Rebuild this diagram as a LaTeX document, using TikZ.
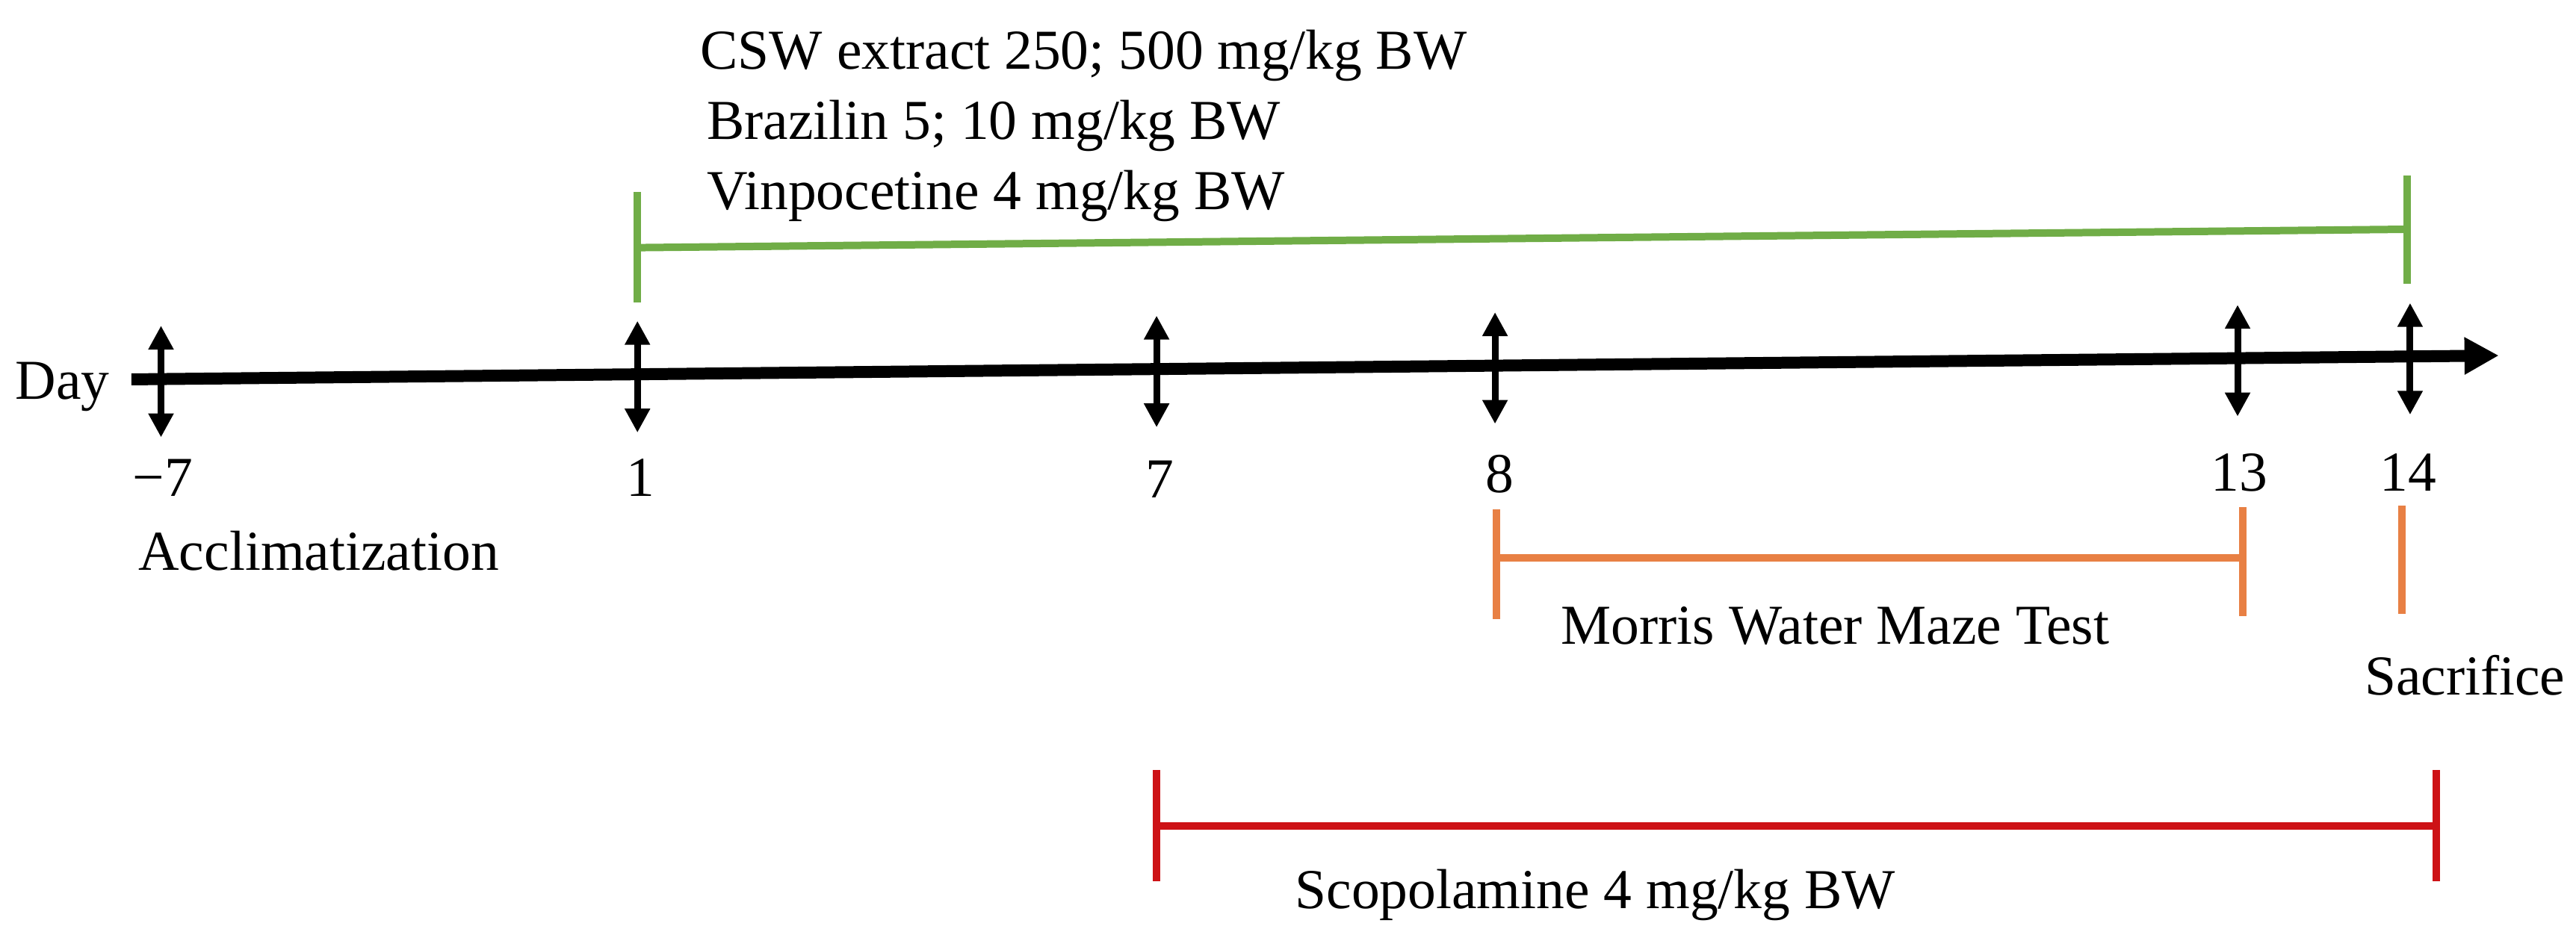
\documentclass[tikz,border=0pt]{standalone}
\usepackage{fontspec}
\setmainfont{Liberation Serif}
\usetikzlibrary{arrows.meta}
\definecolor{tgreen}{RGB}{112,173,71}
\definecolor{torange}{RGB}{232,128,68}
\definecolor{tred}{RGB}{205,18,22}
\begin{document}
\begin{tikzpicture}[x=0.22mm,y=-0.22mm,
  font=\fontsize{21.5}{25}\selectfont,
  lbl/.style={inner sep=0pt, anchor=base},
  lblw/.style={inner sep=0pt, anchor=base west},
  axisline/.style={line width=1.6mm, -{Triangle[length=4.6mm,width=4.7mm]}},
  dayarrow/.style={line width=0.9mm, {Triangle[length=3.2mm,width=3.2mm]}-{Triangle[length=3.2mm,width=3.2mm]}},
  gbar/.style={draw=tgreen, line width=1.0mm},
  obar/.style={draw=torange, line width=1.0mm},
  rbar/.style={draw=tred, line width=1.0mm}]
\useasboundingbox (0,0) rectangle (1568,571);
% axis
\coordinate (a0) at (80,231);
\coordinate (a1) at (1521,216.5);
\draw[axisline] (a0) -- (a1);
\node[lblw] (day) at (9,243) {Day};
% day arrows
\coordinate (m7t) at (98,198.3);   \coordinate (m7b) at (98,266.3);
\coordinate (d1t) at (388,195.4);  \coordinate (d1b) at (388,263.4);
\coordinate (d7t) at (704,192.2);  \coordinate (d7b) at (704,260.2);
\coordinate (d8t) at (910,190.1);  \coordinate (d8b) at (910,258.1);
\coordinate (d13t) at (1362,185.6); \coordinate (d13b) at (1362,253.6);
\coordinate (d14t) at (1467,184.5);  \coordinate (d14b) at (1467,252.5);
\draw[dayarrow] (m7t) -- (m7b);
\draw[dayarrow] (d1t) -- (d1b);
\draw[dayarrow] (d7t) -- (d7b);
\draw[dayarrow] (d8t) -- (d8b);
\draw[dayarrow] (d13t) -- (d13b);
\draw[dayarrow] (d14t) -- (d14b);
% day labels
\node[lbl] (lm7) at (99,302) {\char"2212 7};
\node[lbl] (l1) at (390,302) {1};
\node[lbl] (l7) at (706,303) {7};
\node[lbl] (l8) at (913,300) {8};
\node[lbl] (l13) at (1363,299) {13};
\node[lbl] (l14) at (1466,299) {14};
\node[lblw] (accl) at (84,347) {Acclimatization};
% green treatment bracket
\coordinate (gLt) at (388,117); \coordinate (gLb) at (388,184);
\coordinate (gLm) at (388,150.8);
\coordinate (gRt) at (1465,107); \coordinate (gRb) at (1465,173);
\coordinate (gRm) at (1465,139.6);
\draw[gbar] (gLt) -- (gLb);
\draw[gbar] (gRt) -- (gRb);
\draw[gbar] (gLm) -- (gRm);
\node[lblw] (csw) at (426,42) {CSW extract 250; 500 mg/kg BW};
\node[lblw] (braz) at (430,85) {Brazilin 5; 10 mg/kg BW};
\node[lblw] (vinp) at (430,127.5) {Vinpocetine 4 mg/kg BW};
% orange Morris water maze
\coordinate (oLt) at (911,310); \coordinate (oLb) at (911,377);
\coordinate (oLm) at (911,339.5);
\coordinate (oRt) at (1365,309); \coordinate (oRb) at (1365,375);
\coordinate (oRm) at (1365,339.5);
\draw[obar] (oLt) -- (oLb);
\draw[obar] (oRt) -- (oRb);
\draw[obar] (oLm) -- (oRm);
\node[lblw] (mwm) at (950,392) {Morris Water Maze Test};
% sacrifice
\coordinate (sT) at (1462,308); \coordinate (sB) at (1462,374);
\draw[obar] (sT) -- (sB);
\node[lblw] (sac) at (1439,423) {Sacrifice};
% red scopolamine
\coordinate (rLt) at (704,469); \coordinate (rLb) at (704,536.5);
\coordinate (rLm) at (704,503);
\coordinate (rRt) at (1483,469); \coordinate (rRb) at (1483,536.5);
\coordinate (rRm) at (1483,503);
\draw[rbar] (rLt) -- (rLb);
\draw[rbar] (rRt) -- (rRb);
\draw[rbar] (rLm) -- (rRm);
\node[lblw] (scop) at (788,553) {Scopolamine 4 mg/kg BW};
\end{tikzpicture}
\end{document}
